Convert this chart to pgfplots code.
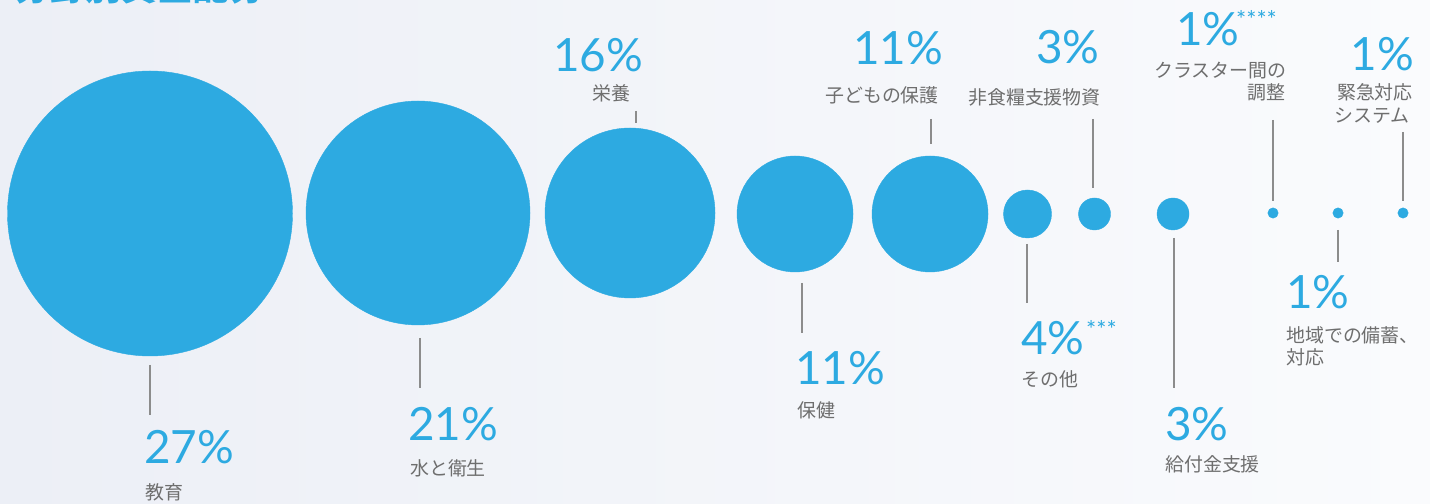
\documentclass[border=0pt]{standalone}
\usepackage{fontspec}
\usepackage{pgfplots}
\pgfplotsset{compat=1.18}
\usepackage{pgfplotstable}
\setmainfont{Lato}
\newfontfamily\jp{Noto Sans CJK JP}
\definecolor{blueC}{HTML}{2DAAE1}
\definecolor{txtC}{HTML}{6E6E6E}
\definecolor{lineC}{HTML}{8C8C8C}
\definecolor{bgL}{HTML}{ECEFF6}
\definecolor{bgR}{HTML}{FAFBFD}

% bubbles: centre (px), radius (px), share in %
\pgfplotstableread{
x      y     r      pct
150    213.5 142.5  27
418    213   112    21
630    213   85     16
795    214   58     11
930    214   58     11
1027.5 214   24     4
1094.5 214   16     3
1173   214   16     3
1273   213   5.2    1
1338   213   5.2    1
1403   213   5.2    1
}\bubbles

% leader lines
\pgfplotstableread{
x     y
150   365
150   415
nan   nan
420   338
420   388
nan   nan
636   111
636   123
nan   nan
802   283
802   333
nan   nan
931   119
931   144
nan   nan
1027  244
1027  303
nan   nan
1093  119
1093  188
nan   nan
1174  238
1174  388
nan   nan
1273  120
1273  201
nan   nan
1338  230
1338  262
nan   nan
1403  132
1403  201
}\leaders

\begin{document}
\begin{tikzpicture}[x=1bp,y=1bp,
  num/.style={anchor=base west, inner sep=0pt, text=blueC, font=\fontsize{46}{46}\selectfont},
  lab/.style={anchor=base west, inner sep=0pt, text=txtC, font=\jp\fontsize{19}{19}\selectfont},
  star/.style={anchor=north west, inner sep=0pt, text=blueC, font=\fontsize{24}{24}\selectfont}]
\useasboundingbox (0,0) rectangle (1430,504);
\shade[left color=bgL, right color=bgR] (0,0) rectangle (1430,504);
\begin{axis}[at={(0,0)}, anchor=south west,
  width=1430bp, height=504bp, scale only axis,
  xmin=0, xmax=1430, ymin=0, ymax=504, y dir=reverse,
  hide axis, clip=false, unbounded coords=jump]

\addplot[lineC, line width=1.3bp] table[x=x, y=y] {\leaders};

\addplot[scatter, only marks, mark=*,
  scatter/use mapped color={draw=blueC, fill=blueC},
  visualization depends on={\thisrow{r} \as \perpointmarksize},
  scatter/@pre marker code/.append style={/tikz/mark size=\perpointmarksize bp}]
  table[x=x, y=y] {\bubbles};

% title (cut off by the top edge)
\node[anchor=base west, inner sep=0pt, text=blueC, font=\jp\bfseries\fontsize{36}{36}\selectfont] at (axis cs:14,1) {分野別資金配分};

\node[num] at (axis cs:144,463) {27\%};
\node[lab] at (axis cs:145,499) {教育};

\node[num] at (axis cs:408,440) {21\%};
\node[lab] at (axis cs:410,475) {水と衛生};

\node[num] at (axis cs:553,72) {16\%};
\node[lab] at (axis cs:592,101) {栄養};

\node[num] at (axis cs:795,385) {11\%};
\node[lab] at (axis cs:797,417) {保健};

\node[num] at (axis cs:853,65) {11\%};
\node[lab] at (axis cs:825,103) {子どもの保護};

\node[num] at (axis cs:1036,64) {3\%};
\node[lab] at (axis cs:968,105) {非食糧支援物資};

\node[num] at (axis cs:1021,355) {4\%};
\node[star] at (axis cs:1086,320) {***};
\node[lab] at (axis cs:1021,387) {その他};

\node[num] at (axis cs:1165,440) {3\%};
\node[lab] at (axis cs:1165,471) {給付金支援};

\node[num] at (axis cs:1176,46) {1\%};
\node[star] at (axis cs:1236,10) {****};
\node[lab] at (axis cs:1154,78) {クラスター間の};
\node[lab, anchor=base east] at (axis cs:1286,100) {調整};

\node[num] at (axis cs:1286,309) {1\%};
\node[lab] at (axis cs:1286,343) {地域での備蓄、};
\node[lab] at (axis cs:1286,365) {対応};

\node[num, anchor=base east] at (axis cs:1414,71) {1\%};
\node[lab, anchor=base east] at (axis cs:1413,100) {緊急対応};
\node[lab, anchor=base east] at (axis cs:1410,123) {システム};
\end{axis}
\end{tikzpicture}
\end{document}
